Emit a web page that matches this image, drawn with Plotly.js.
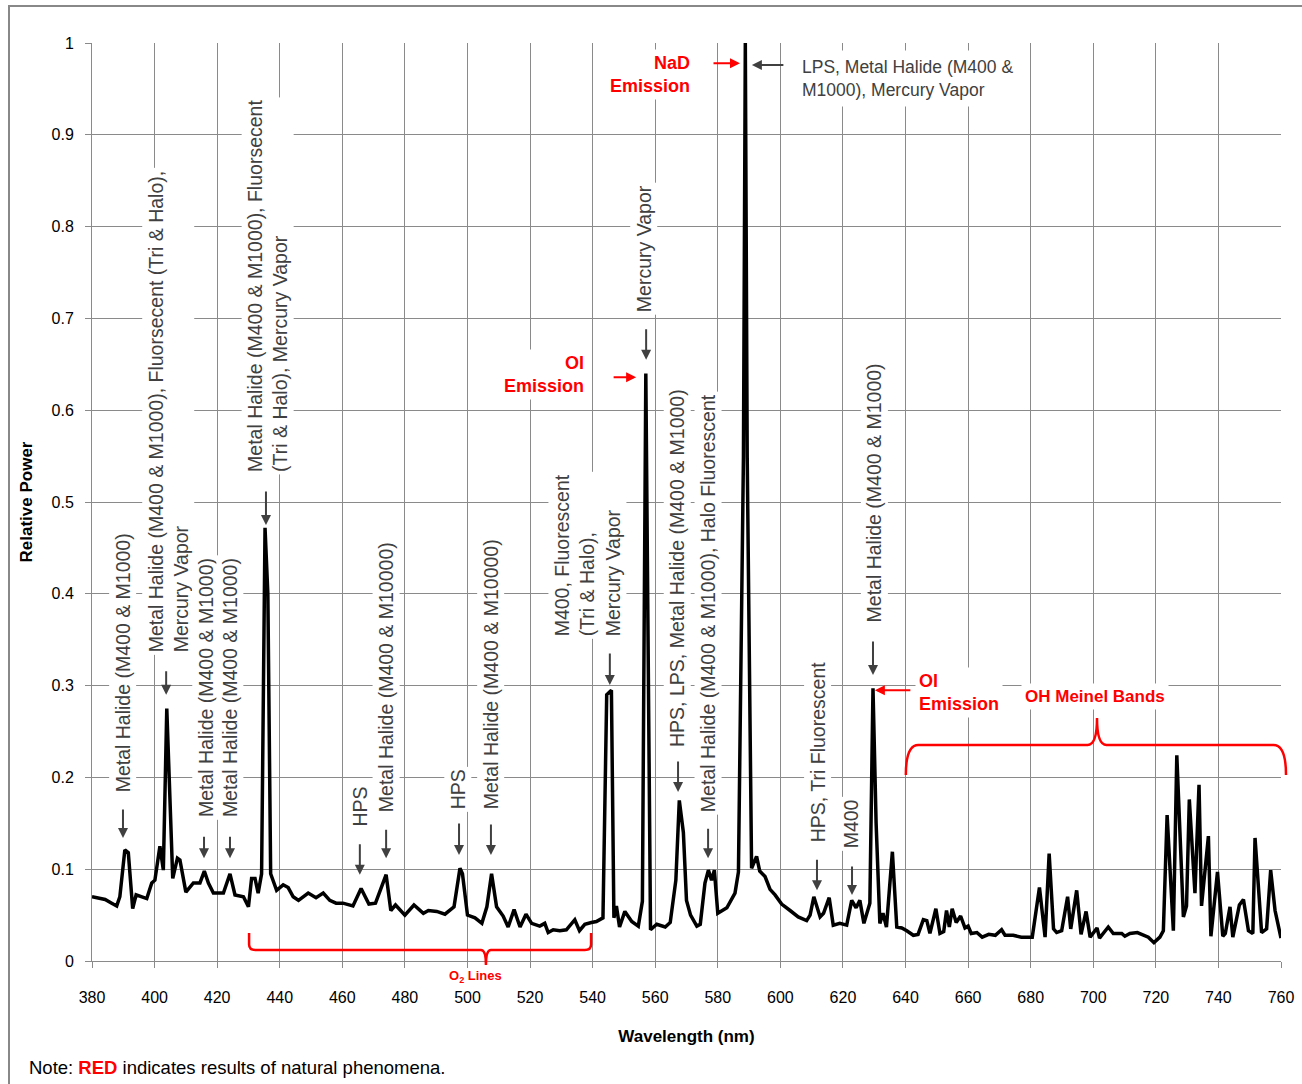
<!DOCTYPE html>
<html>
<head>
<meta charset="utf-8">
<script src="https://cdn.plot.ly/plotly-3.0.1.min.js"></script>
<style>
html,body{margin:0;padding:0;background:#fff;}
#chart{width:1302px;height:1084px;}
</style>
</head>
<body>
<div id="chart"></div>
<script>
// ---------- data ----------
const wavelength = [
380,382.2,384.2,386.3,387.9,388.9,390.5,391.6,393.0,394.1,395.9,397.5,399.1,400.1,401.7,402.8,403.9,404.9,405.8,407.3,
408.1,410.0,412.4,414.5,415.9,417.2,418.8,422.0,424.1,425.7,428.4,430.0,431.0,432.1,433.1,434.2,435.3,436.2,437.1,439.0,
441.1,442.7,444.3,446.0,449.1,451.6,453.9,456.0,458.0,460.2,463.4,466.0,468.5,470.6,474.0,475.5,477.0,480.0,482.9,485.9,
487.5,490.2,492.8,495.7,497.6,498.4,500.0,502.4,504.6,506.2,507.7,509.3,511.4,513.0,514.9,516.8,518.7,520.5,523.1,524.7,
525.8,527.4,529.5,531.6,534.3,535.8,537.5,539.6,541.2,543.3,544.5,546.0,546.8,547.6,548.6,550.3,552.5,554.6,555.9,557.0,
558.5,560.5,563.2,564.8,566.6,567.7,569.0,570.0,571.3,573.3,574.4,575.9,577.0,578.0,578.9,580.0,582.9,585.5,586.6,588.2,
588.8,589.4,590.8,592.4,593.4,595.1,596.7,598.3,600.4,603.1,605.7,608.4,609.5,610.7,612.7,613.8,615.6,616.9,619.0,621.2,
622.8,624.2,625.4,626.7,628.6,629.6,630.6,631.8,632.8,633.9,635.8,637.2,638.8,640.4,642.5,644.0,645.7,646.8,647.8,649.7,
651.0,652.2,653.1,654.0,654.9,656.2,657.6,659.0,660.0,661.0,662.8,664.5,666.6,668.7,670.7,671.8,674.4,677.0,680.5,682.8,
684.6,685.9,687.3,688.3,689.9,691.8,692.8,694.7,696.1,697.7,699.0,701.2,702.0,704.8,706.4,709.1,710.1,711.7,714.1,717.6,
719.4,721.3,722.4,723.6,725.6,726.7,728.8,729.8,730.7,732.5,733.8,734.6,736.8,737.6,739.7,741.4,742.2,743.7,744.6,746.7,
748.0,749.6,751.0,751.7,753.8,755.4,756.7,758.1,760.0
];
const relativePower = [
0.070,0.068,0.067,0.063,0.060,0.070,0.121,0.118,0.057,0.072,0.070,0.068,0.085,0.088,0.125,0.099,0.275,0.170,0.090,0.112,
0.110,0.075,0.085,0.085,0.098,0.085,0.074,0.074,0.095,0.072,0.070,0.059,0.090,0.090,0.074,0.095,0.472,0.400,0.095,0.077,
0.083,0.080,0.070,0.066,0.074,0.069,0.074,0.066,0.063,0.063,0.060,0.079,0.062,0.063,0.094,0.055,0.061,0.050,0.061,0.052,
0.055,0.054,0.051,0.059,0.101,0.095,0.050,0.047,0.041,0.059,0.095,0.059,0.049,0.037,0.056,0.037,0.051,0.041,0.038,0.041,
0.031,0.034,0.033,0.034,0.045,0.033,0.040,0.042,0.043,0.047,0.290,0.295,0.047,0.060,0.037,0.054,0.043,0.038,0.065,0.640,
0.034,0.040,0.037,0.042,0.088,0.175,0.140,0.066,0.050,0.038,0.040,0.085,0.099,0.088,0.099,0.052,0.058,0.074,0.097,0.550,
1.000,0.550,0.101,0.114,0.098,0.092,0.078,0.072,0.062,0.055,0.048,0.044,0.050,0.070,0.048,0.052,0.069,0.039,0.041,0.039,
0.066,0.058,0.066,0.041,0.063,0.297,0.150,0.041,0.052,0.037,0.119,0.037,0.036,0.033,0.028,0.029,0.045,0.044,0.030,0.057,
0.030,0.032,0.055,0.037,0.057,0.042,0.049,0.036,0.038,0.030,0.031,0.026,0.029,0.028,0.034,0.028,0.028,0.026,0.026,0.080,
0.026,0.117,0.035,0.031,0.033,0.070,0.035,0.077,0.029,0.054,0.026,0.036,0.025,0.037,0.030,0.030,0.027,0.030,0.031,0.026,
0.020,0.026,0.033,0.159,0.033,0.224,0.048,0.060,0.176,0.074,0.192,0.060,0.136,0.027,0.097,0.027,0.030,0.059,0.026,0.061,
0.067,0.033,0.030,0.134,0.031,0.035,0.099,0.055,0.025
];
const xTickValues = [380,400,420,440,460,480,500,520,540,560,580,600,620,640,660,680,700,720,740,760];
const yTickValues = [0,0.1,0.2,0.3,0.4,0.5,0.6,0.7,0.8,0.9,1];

// lamp-source callout texts
const lampTexts = [
 'Metal Halide (M400 & M1000)',
 'Metal Halide (M400 & M1000), Fluorsecent (Tri & Halo),<br>Mercury Vapor',
 'Metal Halide (M400 & M1000)',
 'Metal Halide (M400 & M1000)',
 'Metal Halide (M400 & M1000), Fluorsecent<br>(Tri & Halo), Mercury Vapor',
 'HPS',
 'Metal Halide (M400 & M10000)',
 'HPS',
 'Metal Halide (M400 & M10000)',
 'M400, Fluorescent<br>(Tri & Halo),<br>Mercury Vapor',
 'Mercury Vapor',
 'HPS, LPS, Metal Halide (M400 & M1000)',
 'Metal Halide (M400 & M1000), Halo Fluorescent',
 'HPS, Tri Fluorescent',
 'M400',
 'Metal Halide (M400 & M1000)'
];
// ---------- layout of callouts (positions only) ----------
// [text x, text baseline value, arrow x, arrow head value, arrow length px]
const calloutPos = [
 [389.9,0.181,389.9,0.134,30],
 [404.3,0.333,403.7,0.290,25],
 [416.4,0.154,415.8,0.112,23],
 [424.1,0.154,424.1,0.112,23],
 [436.1,0.529,435.6,0.475,35],
 [465.6,0.143,465.6,0.094,32],
 [474.0,0.159,474.0,0.112,30],
 [497.0,0.162,497.3,0.1155,33],
 [507.5,0.162,507.5,0.1155,32],
 [538.4,0.350,545.5,0.3007,33],
 [556.4,0.704,557.1,0.655,32],
 [567.0,0.230,567.3,0.184,32],
 [576.9,0.159,576.9,0.112,31],
 [612.0,0.126,611.7,0.077,32],
 [622.6,0.119,622.9,0.072,30],
 [629.9,0.366,629.6,0.3115,35]
];

const GRAY = '#404040';
const RED = '#ff0000';
const GRID = '#8a8a8a';
const SANS = 'Liberation Sans, Arial, sans-serif';

const annotations = [];
lampTexts.forEach((t, i) => {
  const p = calloutPos[i];
  annotations.push({
    x: p[0], y: p[1], xref: 'x', yref: 'y', text: t, textangle: -90,
    xanchor: 'center', yanchor: 'bottom', align: 'left', showarrow: false,
    bgcolor: 'white', borderpad: 2,
    font: {family: SANS, size: 19.5, color: GRAY}
  });
  annotations.push({
    x: p[2], y: p[3], xref: 'x', yref: 'y', text: '', showarrow: true,
    ax: 0, ay: -p[4], arrowhead: 2, arrowsize: 1, arrowwidth: 2, arrowcolor: GRAY
  });
});

// horizontal LPS callout
annotations.push({
  x: 604.7, y: 0.961, xref: 'x', yref: 'y', xanchor: 'left', yanchor: 'middle', align: 'left',
  text: 'LPS, Metal Halide (M400 &<br>M1000), Mercury Vapor', showarrow: false,
  bgcolor: 'white', borderpad: 6, font: {family: SANS, size: 17.5, color: GRAY}
});
annotations.push({x: 590.9, y: 0.976, xref: 'x', yref: 'y', text: '', showarrow: true,
  ax: 33, ay: 0, arrowhead: 2, arrowsize: 1, arrowwidth: 2, arrowcolor: GRAY});

// natural phenomena (red)
const redFont = {family: SANS, size: 18, color: RED};
annotations.push({x: 572.4, y: 0.966, xref: 'x', yref: 'y', xanchor: 'right', yanchor: 'middle', align: 'right',
  text: '<b>NaD<br>Emission</b>', showarrow: false, bgcolor: 'white', borderpad: 3, font: redFont});
annotations.push({x: 587.1, y: 0.978, xref: 'x', yref: 'y', text: '', showarrow: true,
  ax: -28, ay: 0, arrowhead: 2, arrowsize: 1, arrowwidth: 2, arrowcolor: RED});
annotations.push({x: 538.5, y: 0.6394, xref: 'x', yref: 'y', xanchor: 'right', yanchor: 'middle', align: 'right',
  text: '<b>OI<br>Emission</b>', showarrow: false, bgcolor: 'white', borderpad: 3, font: redFont});
annotations.push({x: 553.9, y: 0.636, xref: 'x', yref: 'y', text: '', showarrow: true,
  ax: -24, ay: 0, arrowhead: 2, arrowsize: 1, arrowwidth: 2, arrowcolor: RED});
annotations.push({x: 643.0, y: 0.292, xref: 'x', yref: 'y', xanchor: 'left', yanchor: 'middle', align: 'left',
  text: '<b>OI<br>Emission</b>', showarrow: false, bgcolor: 'white', borderpad: 3, font: redFont});
annotations.push({x: 630.2, y: 0.295, xref: 'x', yref: 'y', text: '', showarrow: true,
  ax: 37, ay: 0, arrowhead: 2, arrowsize: 1, arrowwidth: 2, arrowcolor: RED});
annotations.push({x: 700.5, y: 0.2876, xref: 'x', yref: 'y', xanchor: 'center', yanchor: 'middle',
  text: '<b>OH Meinel Bands</b>', showarrow: false, bgcolor: 'white', borderpad: 3,
  font: {family: SANS, size: 17, color: RED}});
annotations.push({x: 502.7, y: -0.0174, xref: 'x', yref: 'paper', xanchor: 'center', yanchor: 'middle',
  text: '<b>O<sub>2</sub> Lines</b>', showarrow: false, font: {family: SANS, size: 13, color: RED}});

// footnote
annotations.push({x: -0.0547, y: -0.1155, xref: 'paper', yref: 'paper', xanchor: 'left', yanchor: 'middle',
  text: 'Note: <span style="color:#ff0000"><b>RED</b></span> indicates results of natural phenomena.',
  showarrow: false, font: {family: SANS, size: 18.5, color: '#000'}});

// braces (decorations) in paper coordinates: x paper = (nm-380)/380, y paper = value
function px(nm){ return ((nm - 380) / 380).toFixed(5); }
function pt(nm, v){ return px(nm) + ',' + v.toFixed(5); }
function o2Brace(){
  const xL = 430.2, xR = 539.5, xC = 505.9, yT = 0.0305, yL = 0.012, yTip = -0.0044;
  return 'M' + pt(xL, yT) + ' L' + pt(xL, yL + 0.006) + ' Q' + pt(xL, yL) + ' ' + pt(xL + 2, yL) +
    ' L' + pt(xC - 1.6, yL) + ' Q' + pt(xC, yL) + ' ' + pt(xC, yTip) + ' Q' + pt(xC, yL) + ' ' + pt(xC + 1.6, yL) +
    ' L' + pt(xR - 2, yL) + ' Q' + pt(xR, yL) + ' ' + pt(xR, yL + 0.006) + ' L' + pt(xR, yT);
}
function ohBrace(){
  const xL = 640.1, xR = 761.6, xC = 701.2, yE = 0.2026, yL = 0.2353, yTip = 0.2647;
  return 'M' + pt(xL, yE) + ' Q' + pt(xL, yL) + ' ' + pt(xL + 4, yL) +
    ' L' + pt(xC - 3, yL) + ' Q' + pt(xC, yL) + ' ' + pt(xC, yTip) + ' Q' + pt(xC, yL) + ' ' + pt(xC + 3, yL) +
    ' L' + pt(xR - 4, yL) + ' Q' + pt(xR, yL) + ' ' + pt(xR, yE);
}

const shapes = [
  {type: 'path', xref: 'paper', yref: 'paper', path: o2Brace(), line: {color: RED, width: 2.5}, layer: 'above'},
  {type: 'path', xref: 'paper', yref: 'paper', path: ohBrace(), line: {color: RED, width: 2.5}, layer: 'above'},
  {type: 'rect', xref: 'paper', yref: 'paper', x0: -0.0698, x1: 1.03, y0: -0.16, y1: 1.0403,
   line: {color: '#888888', width: 2}, fillcolor: 'rgba(0,0,0,0)', layer: 'above'}
];

const trace = {
  x: wavelength, y: relativePower, type: 'scatter', mode: 'lines',
  line: {color: '#000000', width: 3.5}, hoverinfo: 'skip', showlegend: false
};

const axisCommon = {
  showgrid: true, gridcolor: GRID, gridwidth: 1, showline: true, linecolor: GRID, linewidth: 1,
  ticks: 'outside', ticklen: 6, tickcolor: GRID, zeroline: false,
  tickfont: {family: SANS, size: 16, color: '#000'}
};

const layout = {
  width: 1302, height: 1084,
  margin: {l: 92, r: 21, t: 43, b: 123},
  paper_bgcolor: '#ffffff', plot_bgcolor: '#ffffff',
  showlegend: false,
  xaxis: Object.assign({}, axisCommon, {
    range: [380, 760], tickvals: xTickValues, ticklabelstandoff: 16,
    title: {text: '<b>Wavelength (nm)</b>', font: {family: SANS, size: 17, color: '#000'}, standoff: 24}
  }),
  yaxis: Object.assign({}, axisCommon, {
    range: [0, 1], tickvals: yTickValues, ticklabelstandoff: 8,
    title: {text: '<b>Relative Power</b>', font: {family: SANS, size: 17, color: '#000'}, standoff: 14}
  }),
  annotations: annotations,
  shapes: shapes
};

Plotly.newPlot('chart', [trace], layout, {staticPlot: true, displayModeBar: false});
</script>
</body>
</html>
